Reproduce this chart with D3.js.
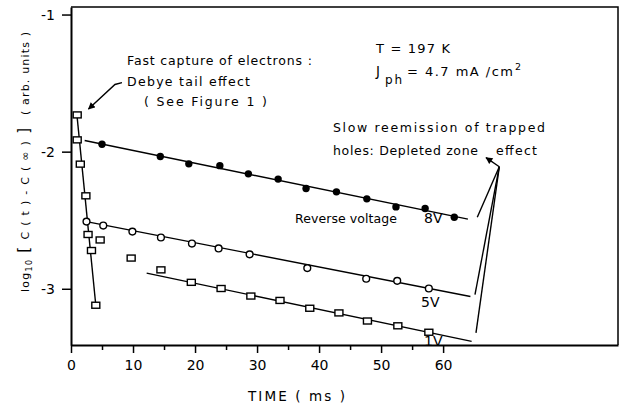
<!DOCTYPE html>
<html>
<head>
<meta charset="utf-8">
<script src="https://cdn.jsdelivr.net/npm/d3@7"></script>
<style>
  html, body { margin: 0; padding: 0; background: #fff; }
  svg { display: block; font-family: "DejaVu Sans", sans-serif; }
</style>
</head>
<body>
<svg id="chart" width="621" height="407"></svg>
<script>
// Reverse voltage 8 V: filled circles
const time8V = [5.0, 14.4, 19.0, 24.0, 28.6, 33.4, 37.9, 42.8, 47.7, 52.4, 57.1, 61.8];
const log8V  = [-1.946, -2.035, -2.089, -2.102, -2.162, -2.200, -2.269, -2.293, -2.344, -2.403, -2.415, -2.478];
// Reverse voltage 5 V: open circles
const time5V = [2.5, 5.2, 9.9, 14.5, 19.5, 23.8, 28.8, 38.1, 47.6, 52.6, 57.7];
const log5V  = [-2.510, -2.539, -2.583, -2.626, -2.670, -2.706, -2.749, -2.849, -2.927, -2.942, -2.998];
// Reverse voltage 1 V: open squares
const time1V = [19.4, 24.2, 29.0, 33.7, 38.5, 43.2, 47.8, 52.7, 57.7];
const log1V  = [-2.953, -2.998, -3.053, -3.085, -3.142, -3.176, -3.235, -3.270, -3.317];
// Early squares on the Debye tail
const timeFast = [1.0, 1.0, 1.5, 2.4, 2.75, 3.3, 4.0];
const logFast  = [-1.732, -1.914, -2.091, -2.322, -2.604, -2.721, -3.120];
// Transition squares off both lines
const timeMid = [4.7, 9.7, 14.5];
const logMid  = [-2.644, -2.776, -2.862];

// Straight-line fits (end points)
const fitTime8V = [2.2, 64.0],  fitLog8V = [-1.919, -2.492];
const fitTime5V = [2.5, 64.4],  fitLog5V = [-2.510, -3.056];
const fitTime1V = [12.2, 64.6], fitLog1V = [-2.886, -3.384];
const fitTimeFast = [0.95, 4.0], fitLogFast = [-1.73, -3.12];

// Axis ticks
const xTicks = [0, 10, 20, 30, 40, 50, 60];
const xMinorTicks = [5, 15, 25, 35, 45, 55];
const yTicks = [-3, -2, -1];

const FONT = '"DejaVu Sans", sans-serif';
const svg = d3.select("#chart");
const x = d3.scaleLinear().domain([0, 88.2]).range([71, 618]);
const y = d3.scaleLinear().domain([-3.41, -0.945]).range([345, 7]);

const zip = (a, b) => a.map((d, i) => [d, b[i]]);
const line = d3.line().x(d => x(d[0])).y(d => y(d[1]));

// Frame: top and right borders
svg.append("path")
  .attr("d", line([[0, -0.945], [88.2, -0.945], [88.2, -3.41]]))
  .attr("fill", "none").attr("stroke", "#000").attr("stroke-width", 1.5);

// Axes
svg.append("g").attr("transform", `translate(0,${y(-3.41)})`)
  .call(d3.axisBottom(x).tickValues(xTicks).tickSize(8).tickSizeOuter(0).tickPadding(7)
    .tickFormat(d => String(d)));
svg.append("g").attr("transform", `translate(0,${y(-3.41)})`)
  .call(d3.axisBottom(x).tickValues(xMinorTicks).tickSize(5).tickSizeOuter(0).tickFormat(""))
  .select(".domain").remove();
svg.append("g").attr("transform", `translate(${x(0)},0)`)
  .call(d3.axisLeft(y).tickValues(yTicks).tickSize(9).tickSizeOuter(0).tickPadding(7)
    .tickFormat(d => String(d)));
svg.selectAll(".domain").attr("stroke-width", 2);
svg.selectAll(".tick line").attr("stroke-width", 1.5);
svg.selectAll(".tick text").attr("font-size", 14).attr("font-family", FONT).attr("fill", "#000");

// Fit lines
[[fitTimeFast, fitLogFast], [fitTime8V, fitLog8V], [fitTime5V, fitLog5V], [fitTime1V, fitLog1V]]
  .forEach(([t, v]) => {
    svg.append("path").attr("d", line(zip(t, v)))
      .attr("fill", "none").attr("stroke", "#000").attr("stroke-width", 1.4);
  });

// Arrow heads
svg.append("defs").append("marker").attr("id", "arrow")
  .attr("viewBox", "0 0 10 10").attr("refX", 9).attr("refY", 5)
  .attr("markerWidth", 8).attr("markerHeight", 7).attr("markerUnits", "userSpaceOnUse")
  .attr("orient", "auto")
  .append("path").attr("d", "M0,0 L10,5 L0,10 z").attr("fill", "#000");

// Annotation: Debye tail arrow
svg.append("path")
  .attr("d", line([[8.22, -1.497], [7.09, -1.510], [2.82, -1.689]]))
  .attr("fill", "none").attr("stroke", "#000").attr("stroke-width", 1.4)
  .attr("marker-end", "url(#arrow)");

// Annotation: depleted zone arrow and its three branches
const apex = [69.06, -2.110];
svg.append("path").attr("d", line([apex, [66.92, -2.043]]))
  .attr("fill", "none").attr("stroke", "#000").attr("stroke-width", 1.4)
  .attr("marker-end", "url(#arrow)");
[[65.51, -2.479], [65.14, -3.042], [65.30, -3.322]].forEach(p => {
  svg.append("path").attr("d", line([apex, p]))
    .attr("fill", "none").attr("stroke", "#000").attr("stroke-width", 1.4);
});

// Markers
const squares = zip(timeFast, logFast).concat(zip(timeMid, logMid), zip(time1V, log1V));
svg.append("g").selectAll("rect").data(squares).join("rect")
  .attr("x", d => x(d[0]) - 4).attr("y", d => y(d[1]) - 3)
  .attr("width", 8).attr("height", 6)
  .attr("fill", "#fff").attr("stroke", "#000").attr("stroke-width", 1.4);
svg.append("g").selectAll("circle").data(zip(time5V, log5V)).join("circle")
  .attr("cx", d => x(d[0])).attr("cy", d => y(d[1])).attr("r", 3.4)
  .attr("fill", "#fff").attr("stroke", "#000").attr("stroke-width", 1.4);
svg.append("g").selectAll("circle").data(zip(time8V, log8V)).join("circle")
  .attr("cx", d => x(d[0])).attr("cy", d => y(d[1])).attr("r", 3.7)
  .attr("fill", "#000");

// Text helper: letter spacing stretched to the given width
function label(txt, px, py, len, size = 12.5) {
  const t = svg.append("text").attr("x", px).attr("y", py)
    .attr("font-size", size).attr("fill", "#000").text(txt);
  if (len) t.attr("textLength", len).attr("lengthAdjust", "spacing");
  return t;
}

label("Fast capture of electrons :", 127, 65, 185);
label("Debye tail effect", 127, 86, 123);
label("( See Figure 1 )", 144, 106, 123);
label("T = 197 K", 376, 53, 74, 13);
label("J", 376, 76, null, 13.5);
label("ph", 385, 84, 17, 12);
label("= 4.7 mA /cm", 407, 76, 106, 13);
label("2", 515, 70, null, 9.5);
label("Slow reemission of trapped", 333, 132, 212);
label("holes: Depleted zone", 333, 155, 145);
label("effect", 496, 155, 41);
label("Reverse voltage", 295, 223, 102);
label("8V", 424, 223, null, 14);
label("5V", 421, 307, null, 14);
label("1V", 424, 346, null, 14);
label("TIME ( ms )", 248, 401, 97, 13.5);

// Y-axis title, rotated
const yt = svg.append("text").attr("transform", "translate(28.5,292) rotate(-90)")
  .attr("font-size", 11).attr("fill", "#000")
  .attr("textLength", 164).attr("lengthAdjust", "spacing");
yt.append("tspan").text("log");
yt.append("tspan").attr("font-size", 8).attr("dy", 3).text("10");
yt.append("tspan").attr("font-size", 15).attr("dy", -3).text(" [ ");
yt.append("tspan").text("C ( t ) - C ( ∞ )");
yt.append("tspan").attr("font-size", 15).text(" ]");
svg.append("text").attr("transform", "translate(28.5,115) rotate(-90)")
  .attr("font-size", 11).attr("fill", "#000")
  .attr("textLength", 83).attr("lengthAdjust", "spacing")
  .text("( arb. units )");
</script>
</body>
</html>
